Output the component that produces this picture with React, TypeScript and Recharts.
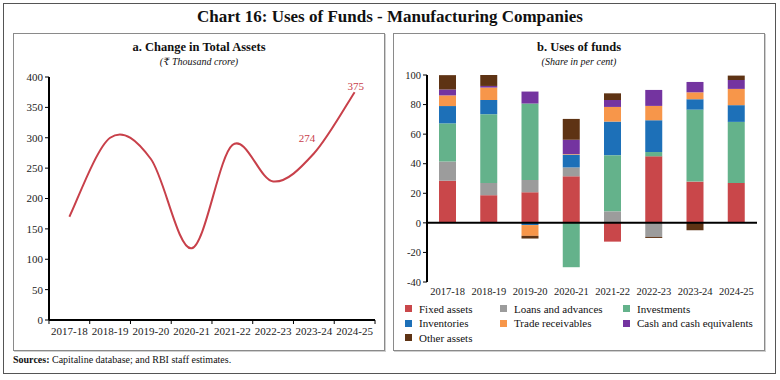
import React from "react"
import {
  Bar,
  BarChart,
  ComposedChart,
  LabelList,
  Line,
  ReferenceLine,
  XAxis,
  YAxis,
} from "recharts"

const years = [
  "2017-18",
  "2018-19",
  "2019-20",
  "2020-21",
  "2021-22",
  "2022-23",
  "2023-24",
  "2024-25",
]

// panel a: change in total assets (₹ thousand crore)
const assetChange = [170, 300, 265, 118, 288, 228, 274, 375]

// panel b: uses of funds (share in per cent)
const fixedAssets = [28.5, 18.7, 20.7, 31.5, -12.7, 45, 27.9, 27]
const loansAdvances = [13, 8.3, 8.3, 6, 7.8, -9.5, 0, 0]
const investments = [25.8, 46.5, 51.7, -30, 38, 2.9, 48.7, 41.3]
const inventories = [11.7, 9.6, -1.5, 8.6, 22.7, 21.5, 7, 11.3]
const tradeReceivables = [7.2, 8.4, -7.3, 0.4, 9.9, 9.7, 4.7, 11]
const cashEquivalents = [4, 1.1, 8.1, 9.7, 4.7, 10.8, 7, 6]
const otherAssets = [9.7, 7.4, -1.8, 14.1, 4.5, -0.7, -5, 3]

const series = [
  { key: "fixed", name: "Fixed assets", color: "#c9474a", values: fixedAssets },
  { key: "loans", name: "Loans and advances", color: "#9c9c9c", values: loansAdvances },
  { key: "inv", name: "Investments", color: "#64b28b", values: investments },
  { key: "stock", name: "Inventories", color: "#1d70b8", values: inventories },
  { key: "trade", name: "Trade receivables", color: "#f7964a", values: tradeReceivables },
  { key: "cash", name: "Cash and cash equivalents", color: "#7434a0", values: cashEquivalents },
  { key: "other", name: "Other assets", color: "#5e3314", values: otherAssets },
]

const lineData = years.map((year, i) => ({ year, value: assetChange[i] }))

const barData = years.map((year, i) => {
  const row: Record<string, any> = { year }
  series.forEach((s) => {
    row[s.key] = s.values[i]
  })
  return row
})

const FONT = "'Liberation Serif', 'DejaVu Serif', serif"
const LINE_RED = "#c8404a"

// Excel style smoothed line (catmull-rom through the points)
function excelSmooth(context: any) {
  let pts: number[][] = []
  return {
    areaStart() {},
    areaEnd() {},
    lineStart() {
      pts = []
    },
    point(x: number, y: number) {
      pts.push([+x, +y])
    },
    lineEnd() {
      const n = pts.length
      if (!n) return
      context.moveTo(pts[0][0], pts[0][1])
      for (let i = 0; i < n - 1; i++) {
        const p0 = pts[i - 1] || pts[i]
        const p1 = pts[i]
        const p2 = pts[i + 1]
        const p3 = pts[i + 2] || p2
        context.bezierCurveTo(
          p1[0] + (p2[0] - p0[0]) / 6,
          p1[1] + (p2[1] - p0[1]) / 6,
          p2[0] - (p3[0] - p1[0]) / 6,
          p2[1] - (p3[1] - p1[1]) / 6,
          p2[0],
          p2[1]
        )
      }
    },
  }
}

// tick label at band centre plus a small mark on each band edge
const BandTick = (props: any) => {
  const { x, y, payload, index, half, fontSize } = props
  return (
    <g>
      <line x1={x - half} y1={y} x2={x - half} y2={y + 4} stroke="#000" />
      {index === years.length - 1 && (
        <line x1={x + half} y1={y} x2={x + half} y2={y + 4} stroke="#000" />
      )}
      <text
        x={x}
        y={y + 15}
        textAnchor="middle"
        fontSize={fontSize}
        fill="#222"
        fontFamily={FONT}
      >
        {payload.value}
      </text>
    </g>
  )
}

const PointLabel = (props: any) => {
  const { x, y, value, index } = props
  if (index === 6) {
    return (
      <text x={x - 7} y={y - 12} textAnchor="middle" fontSize={11} fill={LINE_RED} fontFamily={FONT}>
        {value}
      </text>
    )
  }
  if (index === 7) {
    return (
      <text x={x + 1} y={y - 2} textAnchor="middle" fontSize={11} fill={LINE_RED} fontFamily={FONT}>
        {value}
      </text>
    )
  }
  return null
}

const panelStyle: React.CSSProperties = {
  position: "absolute",
  top: 33,
  height: 318,
  border: "1px solid #8a8a8a",
  boxSizing: "border-box",
  boxShadow: "1px 1px 0 #cfcfcf",
}

export default function App() {
  return (
    <div
      style={{
        position: "absolute",
        left: 0,
        top: 0,
        width: 780,
        height: 380,
        background: "#fff",
        fontFamily: FONT,
        color: "#111",
      }}
    >
      <div
        style={{
          position: "absolute",
          left: 3,
          top: 3,
          width: 773,
          height: 371,
          border: "1px solid #555",
          boxSizing: "border-box",
        }}
      />
      <div
        style={{
          position: "absolute",
          left: 0,
          top: 7,
          width: 780,
          textAlign: "center",
          fontSize: 17,
          fontWeight: "bold",
        }}
      >
        Chart 16: Uses of Funds - Manufacturing Companies
      </div>

      {/* panel a */}
      <div style={{ ...panelStyle, left: 13, width: 372 }} />
      <div style={{ position: "absolute", left: 13, top: 40, width: 372, textAlign: "center" }}>
        <div style={{ fontSize: 12.5, fontWeight: "bold" }}>a. Change in Total Assets</div>
        <div style={{ fontSize: 10, fontStyle: "italic", marginTop: 1 }}>(₹ Thousand crore)</div>
      </div>
      <div style={{ position: "absolute", left: 13, top: 65 }}>
        <ComposedChart
          width={370}
          height={285}
          data={lineData}
          margin={{ top: 12, right: 8, left: 0, bottom: 0 }}
        >
          <XAxis
            dataKey="year"
            scale="band"
            height={30}
            axisLine={{ stroke: "#000", strokeWidth: 2 }}
            tickLine={false}
            tickSize={0}
            tickMargin={0}
            interval={0}
            tick={<BandTick half={20.4} fontSize={11} />}
          />
          <YAxis
            width={36}
            domain={[0, 400]}
            ticks={[0, 50, 100, 150, 200, 250, 300, 350, 400]}
            axisLine={{ stroke: "#000", strokeWidth: 2 }}
            tickLine={{ stroke: "#000" }}
            tickSize={4}
            tick={{ fontSize: 11, fill: "#222", fontFamily: FONT }}
          />
          <Line
            dataKey="value"
            type={excelSmooth as any}
            stroke={LINE_RED}
            strokeWidth={2}
            dot={false}
            isAnimationActive={false}
          >
            <LabelList dataKey="value" content={<PointLabel />} />
          </Line>
        </ComposedChart>
      </div>

      {/* panel b */}
      <div style={{ ...panelStyle, left: 393, width: 372 }} />
      <div style={{ position: "absolute", left: 393, top: 40, width: 372, textAlign: "center" }}>
        <div style={{ fontSize: 12.5, fontWeight: "bold" }}>b. Uses of funds</div>
        <div style={{ fontSize: 10, fontStyle: "italic", marginTop: 1 }}>(Share in per cent)</div>
      </div>
      <div style={{ position: "absolute", left: 393, top: 65 }}>
        <BarChart
          width={370}
          height={240}
          data={barData}
          stackOffset="sign"
          barSize={17}
          margin={{ top: 10, right: 6, left: 0, bottom: 0 }}
        >
          <XAxis
            dataKey="year"
            height={23}
            axisLine={false}
            tickLine={false}
            interval={0}
            tickMargin={0}
            tick={{ fontSize: 10.5, fill: "#222", fontFamily: FONT }}
          />
          <YAxis
            width={34}
            domain={[-40, 100]}
            ticks={[-40, -20, 0, 20, 40, 60, 80, 100]}
            axisLine={{ stroke: "#000", strokeWidth: 2 }}
            tickLine={{ stroke: "#000" }}
            tickSize={4}
            tick={{ fontSize: 10.5, fill: "#222", fontFamily: FONT }}
          />
          {series.map((s) => (
            <Bar
              key={s.key}
              dataKey={s.key}
              name={s.name}
              stackId="a"
              fill={s.color}
              isAnimationActive={false}
            />
          ))}
          <ReferenceLine y={0} stroke="#000" strokeWidth={2} />
        </BarChart>
      </div>
      <div
        style={{
          position: "absolute",
          left: 405,
          top: 302,
          display: "grid",
          gridTemplateColumns: "95px 123px 140px",
          rowGap: 1,
          fontSize: 11,
        }}
      >
        {series.map((s) => (
          <div key={s.key} style={{ display: "flex", alignItems: "center", height: 13.5 }}>
            <span
              style={{
                display: "inline-block",
                width: 7,
                height: 7,
                background: s.color,
                marginRight: 7,
              }}
            />
            {s.name}
          </div>
        ))}
      </div>

      <div style={{ position: "absolute", left: 13, top: 354, fontSize: 10 }}>
        <b>Sources:</b> Capitaline database; and RBI staff estimates.
      </div>
    </div>
  )
}
